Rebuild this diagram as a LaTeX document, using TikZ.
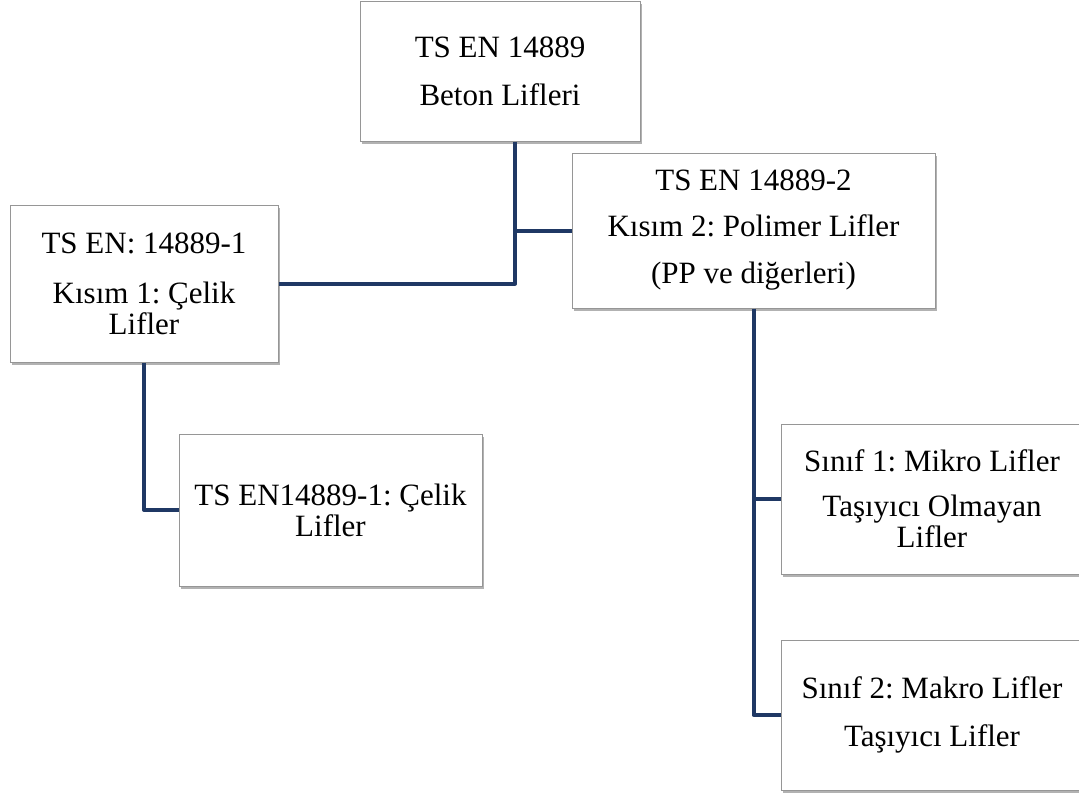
\documentclass[tikz,border=0pt]{standalone}
\usepackage{fontspec}
\setmainfont{Liberation Serif}
\frenchspacing
\usetikzlibrary{shadows}
\definecolor{navy}{RGB}{31,56,100}
\definecolor{edge}{RGB}{150,150,150}
\begin{document}
\begin{tikzpicture}[x=1pt,y=-1pt,
  box/.style={rectangle, draw=edge, line width=1pt, fill=white, align=center,
    inner sep=0pt, font=\fontsize{31}{31}\selectfont,
    drop shadow={shadow xshift=2pt, shadow yshift=-3pt, fill=black!60, opacity=0.5}},
  conn/.style={draw=navy, line width=4pt, line join=round}]
\useasboundingbox (0,0) rectangle (1079,798);
\fill[white] (0,0) rectangle (1079,798);
\node[box, minimum width=280pt, minimum height=140pt] (top) at (500,71)
  {TS EN 14889\\[17pt]Beton Lifleri};
\node[box, minimum width=363pt, minimum height=155pt] (p2) at (753.5,230.5)
  {TS EN 14889-2\\[15pt]Kısım 2: Polimer Lifler\\[16pt](PP ve diğerleri)};
\node[box, minimum width=268pt, minimum height=157pt] (p1) at (144,283.5)
  {TS EN: 14889-1\\[19pt]Kısım 1: Çelik\\Lifler};
\node[box, minimum width=303pt, minimum height=152pt] (celik) at (330.5,510)
  {TS EN14889-1: Çelik\\Lifler};
\node[box, minimum width=302pt, minimum height=150pt] (s1) at (932,499)
  {Sınıf 1: Mikro Lifler\\[14pt]Taşıyıcı Olmayan\\Lifler};
\node[box, minimum width=302pt, minimum height=150pt] (s2) at (932,715)
  {Sınıf 2: Makro Lifler\\[17pt]Taşıyıcı Lifler};
\coordinate (j1) at (515,283.5);
\draw[conn] (top.south -| j1) -- (j1) -- (p1.east);
\draw[conn] (j1 |- p2.west) -- (p2.west);
\draw[conn] (p1.south) |- (celik.west);
\draw[conn] (p2.south) |- (s2.west);
\draw[conn] (p2.south |- s1.west) -- (s1.west);
\end{tikzpicture}
\end{document}
